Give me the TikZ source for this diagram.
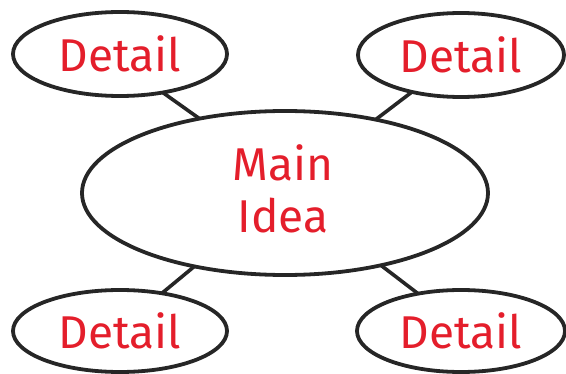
\documentclass[tikz,border=0pt]{standalone}
\usepackage{fontspec}
\setmainfont{Fira Sans}
\usetikzlibrary{shapes.geometric}
\definecolor{txtred}{HTML}{E41E2B}
\tikzset{
  bubble/.style={ellipse, draw=black!85, line width=3.8pt, outer sep=0pt, inner sep=0pt,
    text=txtred, font=\fontsize{46}{52}\selectfont, align=center},
  link/.style={draw=black!85, line width=3.6pt}
}
\begin{document}
\begin{tikzpicture}[x=1pt,y=1pt]
\useasboundingbox (0,0) rectangle (566,373);
\node[bubble, minimum width=406pt, minimum height=164pt] (main) at (285,180) {};
\node[text=txtred, font=\fontsize{46}{52}\selectfont, align=center] (maintxt) at (283,184) {Main\\Idea};
\node[bubble, minimum width=214pt, minimum height=84pt] (tl) at (120,319) {Detail};
\node[bubble, minimum width=206pt, minimum height=84pt] (tr) at (461,318) {Detail};
\node[bubble, minimum width=214pt, minimum height=82pt] (bl) at (120,42) {Detail};
\node[bubble, minimum width=208pt, minimum height=82pt] (br) at (461,42) {Detail};
\draw[link] (tl.-42) -- (main.139);
\draw[link] (tr.217) -- (main.39);
\draw[link] (bl.42) -- (main.219);
\draw[link] (br.139) -- (main.-37);
\end{tikzpicture}
\end{document}
